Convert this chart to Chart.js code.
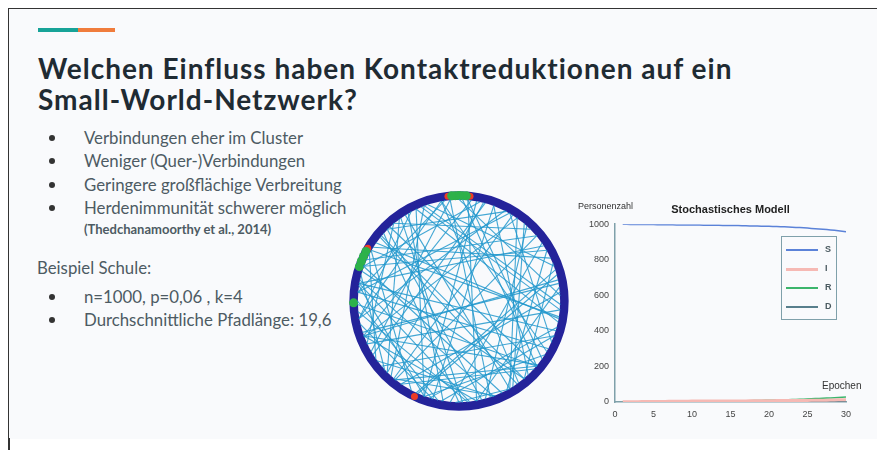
<!DOCTYPE html>
<html>
<head>
<meta charset="utf-8">
<title>Small-World-Netzwerk</title>
<script src="https://cdn.jsdelivr.net/npm/chart.js@4.4.1/dist/chart.umd.min.js"></script>
<style>
  body { margin: 0; background: #fff; width: 877px; height: 450px; overflow: hidden; position: relative; font-family: Lato, "Open Sans", sans-serif; }
  #slide { position: absolute; left: 8px; top: 8px; width: 869px; height: 430px; background: #f9fafc; border-left: 1.5px solid #333; border-top: 1.5px solid #333; }
  #lineBelow { position: absolute; left: 8px; top: 438px; width: 1.5px; height: 12px; background: #333; }
  .t { position: absolute; white-space: nowrap; }
  .title { font-weight: 700; font-size: 28px; letter-spacing: 1px; color: #1f2b33; line-height: 31px; left: 38px; }
  .b { font-size: 16.8px; color: #4d5b63; line-height: 23px; left: 84px; }
  .dot { position: absolute; width: 6px; height: 6px; border-radius: 3px; background: #333; left: 49px; }
  #legend { position: absolute; left: 781px; top: 236px; width: 54px; height: 82px; border: 1.5px solid #7fa0aa; }
  .lg { position: absolute; left: 4px; height: 10px; font: bold 9px "Liberation Sans", Arial, sans-serif; color: #4a5a60; }
  .lg span.l { position: absolute; left: 0; top: 4px; width: 32px; height: 2px; }
  .lg span.n { position: absolute; left: 39px; top: -1px; }
</style>
</head>
<body>
<div id="slide"></div>
<div id="lineBelow"></div>
<div class="t" style="left:38px;top:28px;width:40px;height:4px;background:#17a398"></div>
<div class="t" style="left:78px;top:28px;width:37px;height:4px;background:#f07c3c"></div>
<div class="t title" style="top:53px">Welchen Einfluss haben Kontaktreduktionen auf ein</div>
<div class="t title" style="top:84px">Small-World-Netzwerk?</div>

<div class="dot" style="top:135px"></div><div class="t b" style="top:126px">Verbindungen eher im Cluster</div>
<div class="dot" style="top:158px"></div><div class="t b" style="top:149px">Weniger (Quer-)Verbindungen</div>
<div class="dot" style="top:182px"></div><div class="t b" style="top:173px">Geringere großflächige Verbreitung</div>
<div class="dot" style="top:205px"></div><div class="t b" style="top:196px">Herdenimmunität schwerer möglich</div>
<div class="t" style="left:84px;top:221px;font-size:13px;font-weight:700;color:#4d5b63;line-height:17px">(Thedchanamoorthy et al., 2014)</div>
<div class="t b" style="left:37px;top:256px">Beispiel Schule:</div>
<div class="dot" style="top:294px"></div><div class="t b" style="top:285px">n=1000, p=0,06 , k=4</div>
<div class="dot" style="top:317px"></div><div class="t b" style="top:308px">Durchschnittliche Pfadlänge: 19,6</div>

<canvas id="net" width="240" height="240" style="position:absolute;left:339px;top:181px"></canvas>
<canvas id="sir" width="317" height="235" style="position:absolute;left:560px;top:190px"></canvas>
<div class="t" style="left:578px;top:201px;font:9px 'Liberation Sans',Arial,sans-serif;color:#333">Personenzahl</div>
<div class="t" style="left:822px;top:380px;font:10px 'Liberation Sans',Arial,sans-serif;color:#333">Epochen</div>
<div id="legend"></div>

<script>
// SIR-D simulation output, epochs 1..30
const epochs = [1,2,3,4,5,6,7,8,9,10,11,12,13,14,15,16,17,18,19,20,21,22,23,24,25,26,27,28,29,30];
const sValues = [1000,999,999,998,998,997,997,996,996,995,995,994,994,993,993,992,991,990,989,988,987,985,983,981,978,975,972,968,963,957];
const iValues = [1,2,2,3,3,3,4,4,4,5,5,5,5,6,6,6,6,7,7,7,8,8,8,9,9,10,10,11,12,13];
const rValues = [0,0,0,1,1,1,2,2,3,3,4,4,5,5,6,7,7,8,9,10,11,12,14,15,17,19,21,23,25,28];
const dValues = [0,0,0,0,0,0,0,0,0,0,1,1,1,1,1,1,1,1,2,2,2,2,2,2,2,3,3,3,3,3];
const seriesNames = ['S', 'I', 'R', 'D'];
const yTicks = [0, 200, 400, 600, 800, 1000];
const xTicks = [0, 5, 10, 15, 20, 25, 30];

// network: rewired long-range edges (angles in degrees) and node states on the ring
const chords = [[12,200],[25,148],[40,231],[55,300],[63,190],[70,255],[78,160],[85,280],[95,210],[100,330],
  [108,20],[115,250],[122,300],[130,45],[138,270],[145,350],[152,215],[160,30],[168,290],[175,60],
  [182,320],[190,100],[198,10],[205,130],[212,75],[220,340],[228,110],[235,5],[242,150],[250,80],
  [258,180],[265,35],[272,125],[280,200],[288,95],[295,160],[302,50],[310,140],[318,235],[325,85],
  [332,175],[340,260],[348,115],[355,205],[3,90],[18,245],[33,170],[48,285],[62,135],[76,225],
  [88,320],[98,175],[112,355],[126,225],[141,305],[156,40],[171,250],[186,275],[201,55],[216,290],
  [231,320],[246,15],[261,120],[276,170],[291,230],[306,100],[321,200],[336,60],[351,150],[8,280],
  [22,310],[58,230],[83,200],[118,190],[133,320],[163,310],[193,255],[223,165],[253,345],[268,300],
  [283,135],[298,30],[313,70],[328,250],[343,170],[358,110]];
const recoveredNodes = [86,88,90,92,94,152,155,158,161,181];
const infectedNodes = [84,96,150,245];

const deg = Math.PI / 180;
const onRing = (a, r) => ({x: r * Math.cos(a * deg), y: r * Math.sin(a * deg)});

const ringPlugin = {
  id: 'ring',
  beforeDatasetsDraw(chart) {
    const {ctx, scales} = chart;
    const cx = scales.x.getPixelForValue(0), cy = scales.y.getPixelForValue(0);
    const r = scales.x.getPixelForValue(1.095) - cx;
    ctx.save();
    ctx.beginPath();
    ctx.arc(cx, cy, r, 0, Math.PI * 2);
    ctx.lineWidth = 8.5;
    ctx.strokeStyle = '#24239a';
    ctx.stroke();
    ctx.restore();
  }
};

const netSets = chords.map(([a, b]) => ({
  data: [onRing(a, 1.055), onRing(b, 1.055)],
  showLine: true, borderColor: 'rgba(34,152,204,0.85)', borderWidth: 1.1, pointRadius: 0
}));
netSets.push({data: recoveredNodes.map(a => onRing(a, 1.095)), pointRadius: 4.5, backgroundColor: '#2db24a', borderWidth: 0});
netSets.push({data: infectedNodes.map(a => onRing(a, 1.095)), pointRadius: 3.5, backgroundColor: '#ec3b26', borderWidth: 0});

new Chart(document.getElementById('net'), {
  type: 'scatter',
  data: {datasets: netSets},
  options: {
    responsive: false, animation: false, events: [],
    layout: {padding: 0},
    plugins: {legend: {display: false}, tooltip: {enabled: false}},
    scales: {
      x: {min: -1.2, max: 1.2, display: false},
      y: {min: -1.2, max: 1.2, display: false}
    }
  },
  plugins: [ringPlugin]
});

const colors = ['#5b82d8', '#f6b9b4', '#3cb56c', '#587f8c'];
const widths = [1.5, 3, 1.5, 1.5];
const values = [sValues, iValues, rValues, dValues];

const axisColor = '#7fa0aa';
const sir = new Chart(document.getElementById('sir'), {
  type: 'line',
  data: {
    datasets: seriesNames.map((n, k) => ({
      label: n,
      data: epochs.map((e, j) => ({x: e, y: values[k][j]})),
      borderColor: colors[k], borderWidth: widths[k], pointRadius: 0, tension: 0.2
    }))
  },
  options: {
    responsive: false, animation: false, events: [],
    layout: {padding: {left: 0, right: 31, top: 0, bottom: 0}},
    plugins: {
      legend: {display: false}, tooltip: {enabled: false},
      title: {display: true, text: 'Stochastisches Modell', fullSize: false, color: '#222',
        font: {family: '"Liberation Sans", Arial, sans-serif', size: 11, weight: 'bold'},
        padding: {top: 13, bottom: 8}}
    },
    scales: {
      x: {
        type: 'linear', min: 0, max: 30,
        afterBuildTicks: s => { s.ticks = xTicks.map(v => ({value: v})); },
        afterFit: s => { s.height = 23; },
        grid: {display: false, drawTicks: false},
        border: {color: axisColor, width: 1.5},
        ticks: {color: '#444', padding: 7, maxRotation: 0, callback: v => String(v),
          font: {family: '"Liberation Sans", Arial, sans-serif', size: 9}}
      },
      y: {
        min: 0, max: 1000,
        afterBuildTicks: s => { s.ticks = yTicks.map(v => ({value: v})); },
        afterFit: s => { s.width = 55; },
        grid: {display: false, drawTicks: false},
        border: {color: axisColor, width: 1.5},
        ticks: {color: '#444', padding: 6, callback: v => String(v),
          font: {family: '"Liberation Sans", Arial, sans-serif', size: 9}}
      }
    }
  }
});

// legend box inside the plot, built from the datasets
const lg = document.getElementById('legend');
sir.data.datasets.forEach((d, k) => {
  const row = document.createElement('div');
  row.className = 'lg';
  row.style.top = (8 + k * 19) + 'px';
  row.style.width = '50px';
  row.innerHTML = '<span class="l" style="background:' + d.borderColor + ';height:' + d.borderWidth + 'px"></span><span class="n">' + d.label + '</span>';
  lg.appendChild(row);
});
</script>
</body>
</html>
